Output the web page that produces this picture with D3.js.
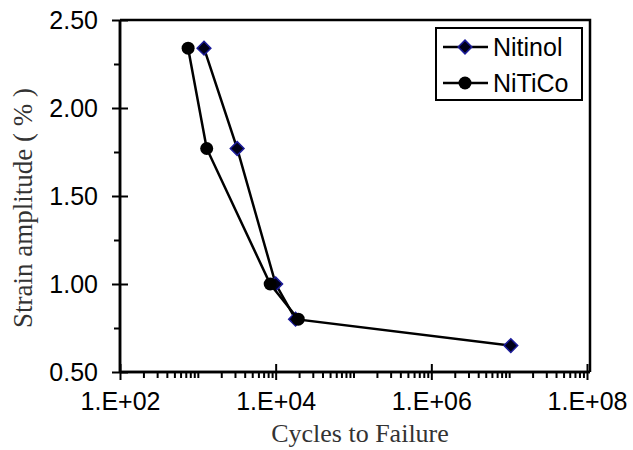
<!DOCTYPE html>
<html>
<head>
<meta charset="utf-8">
<script src="https://cdn.jsdelivr.net/npm/d3@7"></script>
<style>
  html, body { margin: 0; padding: 0; background: #fff; }
  svg { display: block; }
</style>
</head>
<body>
<svg id="chart" width="633" height="450"></svg>
<script>
// Fatigue life data: strain amplitude vs cycles to failure
const nitinolCycles = [1200, 3200, 10000, 18000, 1.05e7];
const nitinolStrain = [2.34, 1.77, 1.00, 0.80, 0.65];
const niticoCycles  = [750, 1300, 8500, 19500];
const niticoStrain  = [2.34, 1.77, 1.00, 0.80];
const seriesNames   = ["Nitinol", "NiTiCo"];
const xTickValues   = [1e2, 1e4, 1e6, 1e8];
const xTickLabels   = ["1.E+02", "1.E+04", "1.E+06", "1.E+08"];
const yTickValues   = [0.5, 1.0, 1.5, 2.0, 2.5];
const yTickLabels   = ["0.50", "1.00", "1.50", "2.00", "2.50"];

const svg = d3.select("#chart");
const plotL = 120, plotR = 587, plotT = 20, plotB = 372, frameR = 590;

const x = d3.scaleLog().domain([1e2, 1e8]).range([plotL, plotR]);
const y = d3.scaleLinear().domain([0.5, 2.5]).range([plotB, plotT]);

const tickFont = "'Liberation Sans', Arial, sans-serif";
const titleFont = "'Liberation Serif', 'Times New Roman', serif";

// plot frame (top and right edges)
svg.append("path")
  .attr("d", `M${plotL},${plotT}H${frameR}V${plotB}`)
  .attr("fill", "none").attr("stroke", "#000").attr("stroke-width", 2.5);

// x axis: log minor ticks below, major ticks crossing
const xMinor = [];
for (let e = 2; e < 8; e++) for (let m = 1; m < 10; m++) {
  const v = m * Math.pow(10, e);
  if (!(m === 1 && e % 2 === 0)) xMinor.push(v);
}
const xAxis = svg.append("g").attr("transform", `translate(0,${plotB})`);
xAxis.call(d3.axisBottom(x).tickValues(xMinor).tickSize(6).tickFormat(""));
xAxis.append("g").call(d3.axisBottom(x).tickValues(xTickValues).tickSize(8).tickPadding(7).tickFormat((d, i) => xTickLabels[i]))
  .call(g => g.selectAll(".tick line").attr("y1", -8));
xAxis.selectAll("path.domain").attr("stroke-width", 2.5).attr("d", `M${plotL},0H${frameR}`);
xAxis.selectAll(".tick line").attr("stroke-width", 2);
xAxis.selectAll(".tick text")
  .attr("font-family", tickFont).attr("font-size", 25).attr("fill", "#000").attr("dy", "0.9em");

// y axis: minor ticks outside, major ticks crossing
const yMinor = [0.75, 1.25, 1.75, 2.25];
const yAxis = svg.append("g").attr("transform", `translate(${plotL},0)`);
yAxis.call(d3.axisLeft(y).tickValues(yMinor).tickSize(6).tickFormat(""));
yAxis.append("g").call(d3.axisLeft(y).tickValues(yTickValues).tickSize(8).tickPadding(14).tickFormat((d, i) => yTickLabels[i]))
  .call(g => g.selectAll(".tick line").attr("x1", 8));
yAxis.selectAll("path.domain").attr("stroke-width", 2.5).attr("d", `M0,${plotT}V${plotB}`);
yAxis.selectAll(".tick line").attr("stroke-width", 2);
yAxis.selectAll(".tick text")
  .attr("font-family", tickFont).attr("font-size", 25).attr("fill", "#000");

// axis titles
svg.append("text")
  .attr("x", 360).attr("y", 442).attr("text-anchor", "middle")
  .attr("font-family", titleFont).attr("font-size", 26).attr("fill", "#333")
  .text("Cycles to Failure");
svg.append("text")
  .attr("transform", "translate(32,208) rotate(-90)").attr("text-anchor", "middle")
  .attr("font-family", titleFont).attr("font-size", 27).attr("fill", "#333")
  .text("Strain amplitude ( % )");

const line = d3.line().x(d => x(d[0])).y(d => y(d[1]));
const nitinol = nitinolCycles.map((c, i) => [c, nitinolStrain[i]]);
const nitico = niticoCycles.map((c, i) => [c, niticoStrain[i]]);

const diamond = d3.symbol().type(d3.symbolDiamond2).size(120);

// Nitinol series
svg.append("path").datum(nitinol).attr("d", line)
  .attr("fill", "none").attr("stroke", "#000").attr("stroke-width", 2.5);
svg.append("g").selectAll("path").data(nitinol).join("path")
  .attr("transform", d => `translate(${x(d[0])},${y(d[1])})`)
  .attr("d", diamond).attr("fill", "#000018").attr("stroke", "#1c1c9a").attr("stroke-width", 1.5);

// NiTiCo series
svg.append("path").datum(nitico).attr("d", line)
  .attr("fill", "none").attr("stroke", "#000").attr("stroke-width", 2.5);
svg.append("g").selectAll("circle").data(nitico).join("circle")
  .attr("cx", d => x(d[0])).attr("cy", d => y(d[1])).attr("r", 6.5).attr("fill", "#000");

// legend
const lg = svg.append("g");
lg.append("rect").attr("x", 436).attr("y", 28).attr("width", 146).attr("height", 72)
  .attr("fill", "#fff").attr("stroke", "#000").attr("stroke-width", 2);
seriesNames.forEach((name, i) => {
  const cy = 47 + i * 36;
  lg.append("line").attr("x1", 443).attr("x2", 488).attr("y1", cy).attr("y2", cy)
    .attr("stroke", "#000").attr("stroke-width", 2.5);
  if (i === 0) {
    lg.append("path").attr("transform", `translate(465,${cy})`).attr("d", diamond)
      .attr("fill", "#000018").attr("stroke", "#1c1c9a").attr("stroke-width", 1.5);
  } else {
    lg.append("circle").attr("cx", 465).attr("cy", cy).attr("r", 6.5).attr("fill", "#000");
  }
  lg.append("text").attr("x", 493).attr("y", cy).attr("dy", "0.36em")
    .attr("font-family", tickFont).attr("font-size", 25).attr("fill", "#000").text(name);
});
</script>
</body>
</html>
